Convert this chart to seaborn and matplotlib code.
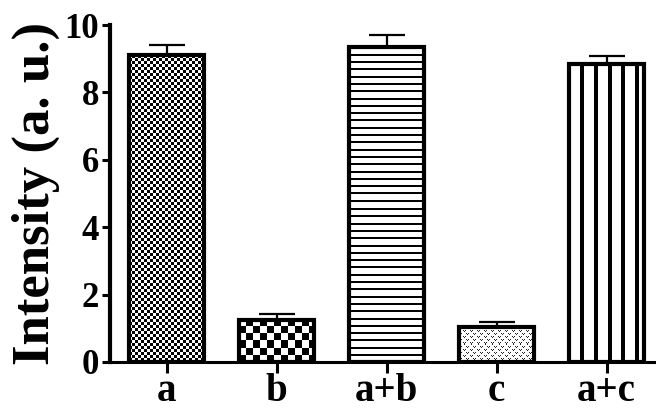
import numpy as np
import pandas as pd
import matplotlib
matplotlib.use("Agg")
import matplotlib.pyplot as plt
import seaborn as sns

# Measured intensities (mean and upper error) for each sample
groups = ["a", "b", "a+b", "c", "a+c"]
intensity = [9.1, 1.25, 9.35, 1.05, 8.85]
error = [0.30, 0.18, 0.35, 0.15, 0.22]
yticks = [0, 2, 4, 6, 8, 10]

sns.set_theme(style="ticks")
plt.rcParams["font.family"] = ["Liberation Serif", "DejaVu Serif"]
plt.rcParams["font.weight"] = "bold"
plt.rcParams["axes.labelweight"] = "bold"

W, H = 656, 412
fig = plt.figure(figsize=(W / 100, H / 100), dpi=100)
ax = fig.add_axes([110 / W, 50 / H, 546 / W, 337 / H])

df = pd.DataFrame({"group": groups, "intensity": intensity})
sns.barplot(data=df, x="group", y="intensity", order=groups, color="white",
            edgecolor="black", linewidth=3, width=0.68, errorbar=None,
            saturation=1, ax=ax)

ax.errorbar(np.arange(len(groups)), intensity,
            yerr=[np.zeros(len(groups)), error], fmt="none", ecolor="black",
            elinewidth=1.6, capsize=13, capthick=1.6, zorder=1)

ax.set_xlim(-0.515, 4.45)
ax.set_ylim(0, 10)
ax.set_yticks(yticks)
ax.set_yticklabels([str(t) for t in yticks])


# Fill textures, one per bar (pixel tiles)
def checker(h, w, cell):
    yy, xx = np.mgrid[0:h, 0:w]
    return ((yy // cell + xx // cell) % 2).astype(float)


def hlines(h, w, period, thick):
    yy, xx = np.mgrid[0:h, 0:w]
    return ((yy % period) < thick).astype(float)


def vlines(h, w, period, thick, offset):
    yy, xx = np.mgrid[0:h, 0:w]
    return (((xx + offset) % period) < thick).astype(float)


def vmarks(h, w):
    tile = np.array([
        [0, 0, 0, 0, 0, 0, 0],
        [1, 0, 1, 0, 0, 0, 0],
        [0, 1, 0, 0, 0, 0, 0],
        [0, 0, 0, 0, 0, 0, 0],
        [0, 0, 0, 0, 1, 0, 1],
        [0, 0, 0, 0, 0, 1, 0],
    ], dtype=float)
    reps = (h // tile.shape[0] + 1, w // tile.shape[1] + 1)
    return np.tile(tile, reps)[:h, :w] * 0.85


textures = [
    lambda h, w: checker(h, w, 3),
    lambda h, w: checker(h, w, 7),
    lambda h, w: hlines(h, w, 7.3, 2),
    vmarks,
    lambda h, w: vlines(h, w, 13.7, 4, 3),
]

bars = list(ax.patches)
for bar, make in zip(bars, textures):
    x0, y0 = bar.get_x(), bar.get_y()
    bw, bh = bar.get_width(), bar.get_height()
    p0 = ax.transData.transform((x0, y0))
    p1 = ax.transData.transform((x0 + bw, y0 + bh))
    wpx = max(int(round(abs(p1[0] - p0[0]))), 1)
    hpx = max(int(round(abs(p1[1] - p0[1]))), 1)
    img = ax.imshow(make(hpx, wpx), cmap="gray_r", vmin=0, vmax=1,
                    extent=(x0, x0 + bw, y0, y0 + bh), origin="upper",
                    aspect="auto", interpolation="nearest",
                    zorder=bar.get_zorder() - 0.05)
    img.set_clip_path(bar)
    bar.set_facecolor("none")

ax.set_xlim(-0.515, 4.45)
ax.set_ylim(0, 10)

sns.despine(ax=ax)
ax.spines["left"].set_linewidth(3)
ax.spines["bottom"].set_linewidth(2.2)
ax.spines["left"].set_color("black")
ax.spines["bottom"].set_color("black")

ax.tick_params(axis="y", length=6, width=2.2, pad=2, labelsize=25,
               colors="black")
ax.tick_params(axis="x", length=8, width=2.2, pad=0, labelsize=28,
               colors="black")
for lab in ax.get_xticklabels() + ax.get_yticklabels():
    lab.set_fontweight("bold")

ax.set_xlabel("")
ax.set_ylabel("Intensity (a. u.)", fontsize=38, fontweight="bold",
              labelpad=3, color="black")

fig.savefig("out.png", dpi=100, facecolor="white")
